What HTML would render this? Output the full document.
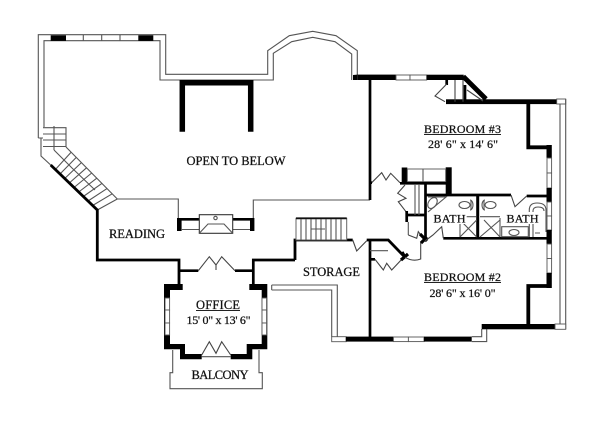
<!DOCTYPE html>
<html><head><meta charset="utf-8"><style>
html,body{margin:0;padding:0;background:#fff}
svg{display:block}
text{font-family:"Liberation Serif",serif;fill:#111;stroke:#111;stroke-width:.25;text-anchor:middle}
.g{fill:none;stroke:#555;stroke-width:1.1}
.k{fill:none;stroke:#000;stroke-width:2.7}
.t{fill:none;stroke:#000;stroke-width:5.5}
.b{fill:#000;stroke:none}
.w{fill:#fff;stroke:#555;stroke-width:.9}
.z{fill:none;stroke:#444;stroke-width:1.1}
</style></head><body>
<svg width="600" height="422" viewBox="0 0 600 422" xmlns="http://www.w3.org/2000/svg">
<rect width="600" height="422" fill="#fff"/>
<!-- great room outline -->
<path class="g" d="M38.3 138V34.7H165.7V74.3H267.7V50.7L289.3 35.7L312.7 31.3L336 35.7L357.3 50.7V75"/>
<path class="g" d="M44 127V40.7H160V80H273.3V53.3L291.7 41.7L312.7 37.3L335 41.7L351.7 54V80"/>
<path class="g" d="M38.3 138H43M41 138V156L50.7 165"/>
<rect class="b" x="50.7" y="35.3" width="15.3" height="5.6"/>
<rect class="b" x="138.3" y="35.3" width="15" height="5.6"/>
<path class="g" d="M83.3 35v6M101.7 35v6M120 35v6"/>
<!-- U wall -->
<path class="t" d="M182.3 131.7V82.7H250.7V131.7"/>
<!-- stairs -->
<path class="g" d="M43 127.7H66V147M43 134H66M43 140H66M43 146.5H66M54 127.7V150M54 130L54 126"/>
<path class="g" d="M66 147L117.3 199"/>
<path class="g" d="M71.1 152.2L55.4 169.5M76.3 157.4L60 174M81.4 162.6L64.7 178.5M86.5 167.8L69.3 183M91.7 173L74 187.5M96.8 178.2L78.7 192M101.9 183.4L83.3 196.5M107 188.6L88 201M112.2 193.8L92.6 205.5M117.3 199L97.3 210"/>
<path class="g" d="M54 150L72 168L95 190"/>
<path class="k" style="stroke-width:2.8" d="M50.7 165L97.3 210V260H179V284"/>
<path class="g" d="M117.3 199H178.3V219"/>
<path class="g" d="M253.3 219V200H370"/>
<path class="k" d="M370 78V200"/>
<!-- fireplace -->
<path class="k" d="M179 219.3H199.3M232.7 219.3H253"/>
<rect class="b" x="177" y="218" width="4.6" height="13"/>
<rect class="b" x="250" y="218" width="4.4" height="13"/>
<path class="g" d="M181 229.5H199.3M232.7 229.5H250"/>
<rect x="199.3" y="214.7" width="33.4" height="18.6" fill="#fff" stroke="#333" stroke-width="1.1"/>
<path class="g" d="M199.3 233.3L208 224H224L232.7 233.3"/>
<circle class="g" cx="215.5" cy="218" r="1.7"/>
<!-- office -->
<path class="b" d="M164 284H182.7V290H170V344H185V354H201.7V359.3H180V349.3H164Z"/>
<path class="b" d="M267.3 284H249.3V290H261.7V344H246.7V354H230.7V359.3H252.3V349.3H267.3Z"/>
<rect class="w" x="165" y="298" width="4.6" height="12"/><rect class="w" x="165" y="310" width="4.6" height="13"/><rect class="w" x="165" y="323" width="4.6" height="12"/>
<rect class="w" x="262" y="298" width="4.6" height="12"/><rect class="w" x="262" y="310" width="4.6" height="13"/><rect class="w" x="262" y="323" width="4.6" height="12"/>
<path class="k" d="M179 270.7H198.3M235 270.7H253.3M253.3 284V260H295"/>
<path class="z" d="M198.3 270.7L209.3 256.7L216 265V270M216 265L221.7 256.7L235 270.7"/>
<path class="z" d="M201.7 355L209.3 341.7L216 353.3L221.7 341.7L230.7 355"/>
<path class="g" d="M201.7 356.7H230.7"/>
<path class="g" d="M172.7 350V372.7H170V388.7H262.3V372.7H259V350"/>
<!-- storage -->
<path class="k" style="stroke-width:2.8" d="M295 260V240H352.7M366.7 240H388.3L405 257.3"/>
<rect x="296" y="218.3" width="50.7" height="21.7" fill="#fff" stroke="#666" stroke-width="1"/>
<path d="M296 218.3H346.7" stroke="#111" stroke-width="1.8"/>
<path class="g" d="M301 219v21M306 219v21M311 219v21M316 219v21M321 219v21M326 219v21M331 219v21M336 219v21M341 219v21M311 229H325"/>
<path class="z" d="M352.7 240L356.7 251L366.7 240.7"/>
<path class="g" d="M271.7 285H337.3V336.7M271.7 290H331.7V336.7M271.7 285V290"/>
<rect class="w" x="331.7" y="336.7" width="14.3" height="5"/>
<rect class="b" x="346" y="336.6" width="47.4" height="5"/>
<rect class="w" x="393.4" y="337" width="15" height="4.6"/><rect class="w" x="408.4" y="337" width="15.6" height="4.6"/>
<rect class="b" x="424" y="336.6" width="47.7" height="5"/>
<path class="g" d="M471.7 341.6H486.7V329.3M471.7 336.7H481.7V329"/>
<path class="k" d="M370 240V337M370 259.3H375"/>
<path class="g" d="M370 250.7H388"/>
<path class="z" d="M375 259.3L383.3 270L386.7 263.3L391.7 270L403 258"/>
<path class="k" style="stroke-width:3.2" d="M401 260L408 254M405 257.3L402 252"/>
<path class="z" d="M405 257.3Q413 262 420.7 259V241.7"/>
<!-- upper right walls -->
<rect class="b" x="357.3" y="74.6" width="38.7" height="5.4"/>
<path class="b" d="M353 80V75L357.3 74.6V80Z"/>
<rect class="w" x="396" y="75" width="14" height="5"/><rect class="w" x="410" y="75" width="16.7" height="5"/>
<rect class="b" x="426.7" y="74.7" width="37" height="5.3"/>
<path class="t" style="stroke-width:4.8" d="M463.3 76.5L486 99"/>
<rect class="b" x="446" y="99.3" width="110.7" height="4.8"/>
<path class="k" d="M446.7 78V85M465 85V101"/>
<path class="z" d="M446.7 84L435 96L445 101.7M455 80V101.7M463 80V101.7M467 90L483 101"/>
<rect class="w" x="556.7" y="99" width="9" height="5"/>
<path class="g" d="M565.7 99V329.3M560 104V324"/>
<path class="k" style="stroke-width:3.8" d="M528.3 103V147.3H550"/>
<path class="k" style="stroke-width:3.8" d="M528.3 326V286H550"/>
<rect class="b" x="546.5" y="145" width="5.3" height="13"/>
<rect class="w" x="547" y="158" width="4.6" height="15"/><rect class="w" x="547" y="173" width="4.6" height="15"/>
<rect class="b" x="546.5" y="188" width="5.3" height="14"/>
<rect class="w" x="547" y="202" width="4.6" height="14"/><rect class="w" x="547" y="216" width="4.6" height="14"/>
<rect class="b" x="546.5" y="230" width="5.3" height="14"/>
<rect class="w" x="547" y="244" width="4.6" height="14.5"/><rect class="w" x="547" y="258.5" width="4.6" height="14.5"/>
<rect class="b" x="546.5" y="273" width="5.3" height="15"/>
<rect class="b" x="481.7" y="324" width="73.3" height="5.3"/>
<rect class="w" x="555" y="324" width="10.7" height="5.3"/>
<!-- core -->
<rect class="b" x="401.7" y="167.5" width="5.6" height="16"/>
<rect class="b" x="445.7" y="167.3" width="6" height="28"/>
<rect class="w" x="407.3" y="169" width="38.4" height="12.7"/>
<path class="g" d="M423 169V181.7"/>
<path class="z" d="M371.7 182.7L381.7 172.7L386 180L390.7 173.3L400 182.7"/>
<path class="k" d="M370 182.7H372M400 183.3H446M425.5 183V238"/>
<path class="z" d="M405 185L397.7 193.3L406 198.3L398.3 201.7L406 211.7"/>
<path class="k" d="M406.7 211V222M406.7 215H425"/>
<path class="g" d="M408.3 222V235M415 184V215M419 184V215"/>
<path class="z" d="M408.3 235L416.7 238.3L418.3 231.7L423 238"/>
<path class="k" style="stroke-width:3.2" d="M420 234L427 241M421 243L427 237"/>
<!-- baths -->
<path class="k" d="M425 195H511M526.7 196H546.7M443.3 238.3H546.7"/>
<path class="k" style="stroke-width:3" d="M477.7 195V239"/>
<path class="z" d="M511 195L515 206.7L526.7 196M443.3 238L441.7 226.7L433 235L425 241"/>
<path class="g" d="M428 197H446L428 212"/>
<ellipse class="g" cx="432.5" cy="203" rx="4" ry="6" transform="rotate(35 432.5 203)"/>
<ellipse class="g" cx="464.5" cy="205" rx="5.5" ry="3.5"/><ellipse class="g" cx="490.5" cy="205" rx="5.5" ry="3.5"/>
<path class="g" d="M471 200V210M484 200V210M470 200a3 5 0 0 1 0 10M485 200a3 5 0 0 0 0 10"/>
<path class="g" d="M466.7 216.7H476M480 216.7H500M460 237L476.7 220M476.7 237L462 222M480 237L500 220M500 237L484 220M460 224V237M500 218V237"/>
<rect class="g" x="501.7" y="226.7" width="26.6" height="10"/>
<ellipse class="g" cx="514" cy="232.5" rx="5" ry="3"/>
<path class="g" d="M529.3 237V210Q529.3 203 537 203Q546 203 546 210V232M533 237V211Q533 207 538 207Q544 207 544 211M535 233H540"/>
<!-- text -->
<text x="236" y="165" font-size="12.5" textLength="99">OPEN TO BELOW</text>
<text x="137" y="238" font-size="12.5" textLength="56">READING</text>
<text x="218" y="309" font-size="12.5" textLength="44">OFFICE</text>
<path d="M196 310.5H240" stroke="#222" stroke-width="1"/>
<text x="218.5" y="324" font-size="12" textLength="64">15' 0" x 13' 6"</text>
<text x="220" y="379" font-size="12.5" textLength="57">BALCONY</text>
<text x="331.5" y="276" font-size="12.5" textLength="57">STORAGE</text>
<text x="462.5" y="133" font-size="12" textLength="77">BEDROOM #3</text>
<path d="M424 134.5H501" stroke="#222" stroke-width="1"/>
<text x="463" y="148" font-size="12" textLength="70">28' 6" x 14' 6"</text>
<text x="462.5" y="281" font-size="12" textLength="77">BEDROOM #2</text>
<path d="M424 282.5H501" stroke="#222" stroke-width="1"/>
<text x="462.5" y="297" font-size="12" textLength="66">28' 6" x 16' 0"</text>
<rect x="432" y="212" width="34" height="12" fill="#fff"/><rect x="505" y="212" width="35" height="12" fill="#fff"/>
<text x="449.5" y="222.5" font-size="12" textLength="32">BATH</text>
<text x="522.5" y="222.5" font-size="12" textLength="32">BATH</text>
</svg>
</body></html>
